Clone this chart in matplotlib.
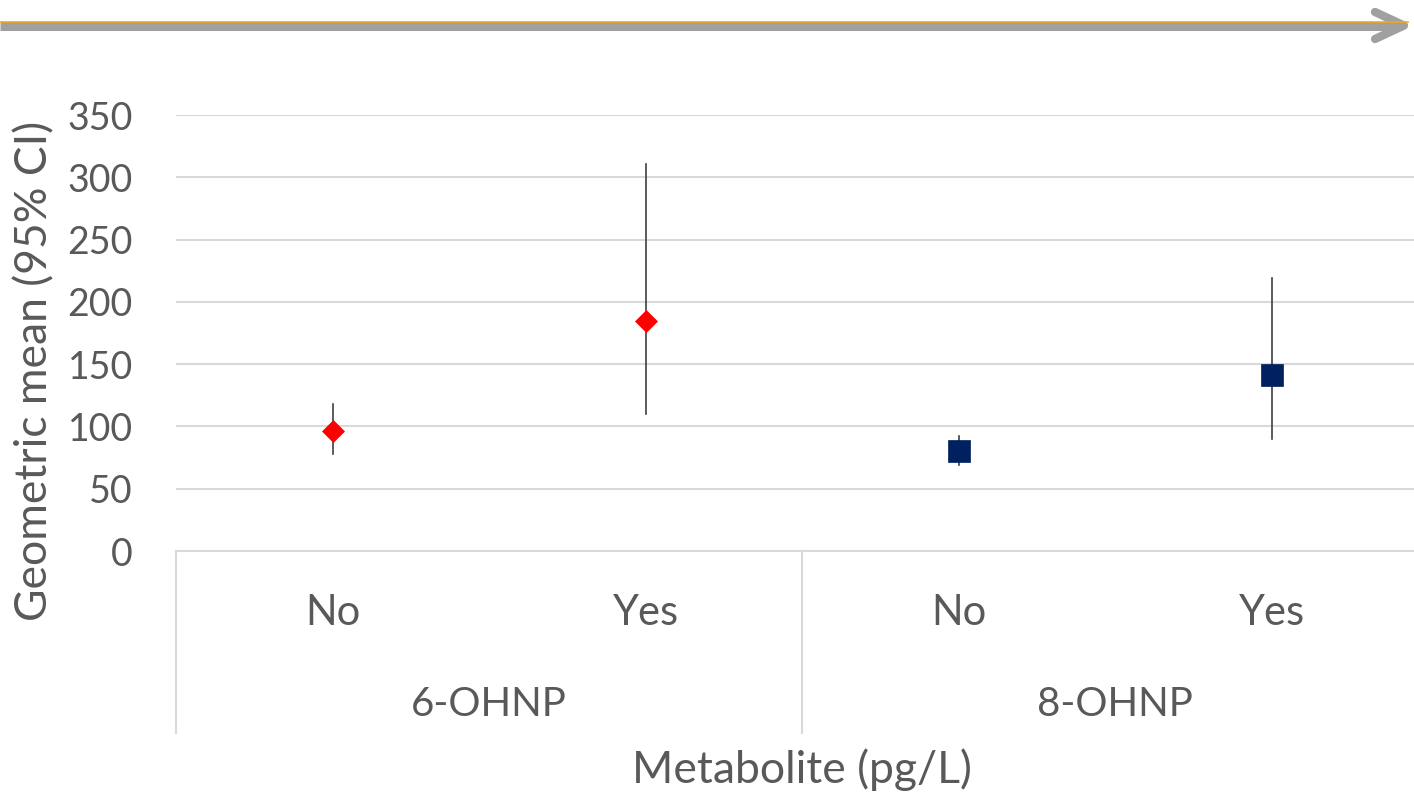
import matplotlib
matplotlib.use("Agg")
import matplotlib.pyplot as plt
from matplotlib.lines import Line2D
import matplotlib.transforms as mtransforms

plt.rcParams['font.family'] = ['Lato', 'DejaVu Sans']

GROUPS = ['6-OHNP', '8-OHNP']
CATS = ['No', 'Yes', 'No', 'Yes']
MEANS = [96, 185, 80, 141]
LOWER = [78, 110, 69, 90]
UPPER = [118, 311, 92, 219]
MARKERS = ['D', 'D', 's', 's']
COLORS = ['#FF0000', '#FF0000', '#002060', '#002060']
SIZES = [11.5, 11.5, 16, 16]

TXT = '#595959'
GRID = '#D9D9D9'

W, H = 1414, 794


def main():
    fig = plt.figure(figsize=(W / 100, H / 100), dpi=100)
    # plot area runs past the right edge, as in the original slide
    ax = fig.add_axes([176 / W, (H - 551) / H, (1428 - 176) / W, 436 / H])

    x = list(range(len(CATS)))
    for i in x:
        ax.plot([i, i], [LOWER[i], UPPER[i]], color='#404040', lw=1.2,
                zorder=3, clip_on=False)
        ax.plot(i, MEANS[i], marker=MARKERS[i], ms=SIZES[i], color=COLORS[i],
                mec=COLORS[i], mew=0.5, zorder=4, clip_on=False, ls='none')

    ax.set_xlim(-0.5, len(CATS) - 0.5)
    ax.set_ylim(0, 350)
    ax.set_yticks(range(0, 351, 50))
    ax.yaxis.grid(True, color=GRID, lw=1.5)
    ax.set_axisbelow(True)
    for s in ['top', 'right', 'left']:
        ax.spines[s].set_visible(False)
    ax.spines['bottom'].set_color(GRID)
    ax.spines['bottom'].set_linewidth(1.5)
    ax.tick_params(axis='y', length=0, pad=31, labelsize=27, labelcolor=TXT)
    ax.set_xticks(x)
    ax.set_xticklabels([])
    ax.tick_params(axis='x', length=0)

    trans = mtransforms.blended_transform_factory(ax.transData, ax.transAxes)
    for i in x:
        ax.text(i, -(613 - 551) / 436, CATS[i], transform=trans,
                ha='center', va='center', fontsize=30, color=TXT)
    bottom = -(733 - 551) / 436
    for b in [-0.5, 1.5, 3.5]:
        ax.add_line(Line2D([b, b], [0, bottom], transform=trans,
                           color=GRID, lw=1.5, clip_on=False))
    for g, name in enumerate(GROUPS):
        ax.text(2 * g + 0.5, -(705 - 551) / 436, name, transform=trans,
                ha='center', va='center', fontsize=29, color=TXT)

    fig.text(802 / W, 1 - 770 / H, 'Metabolite (pg/L)', ha='center',
             va='center', fontsize=32, color=TXT)
    fig.text(35 / W, 1 - 371 / H, 'Geometric mean (95% CI)', ha='center',
             va='center', rotation=90, fontsize=32, color=TXT)

    # slide decoration: arrow line at the top
    def fx(px):
        return px / W

    def fy(py):
        return 1 - py / H

    fig.add_artist(Line2D([0, fx(1402)], [fy(25.5), fy(25.5)], color='#A0A0A0',
                          lw=6.5, solid_capstyle='butt'))
    fig.add_artist(Line2D([fx(1375), fx(1404), fx(1375)],
                          [fy(12), fy(25.5), fy(39)], color='#A0A0A0', lw=6,
                          solid_capstyle='round', solid_joinstyle='round'))
    fig.add_artist(Line2D([0, fx(1408)], [fy(21.5), fy(21.5)], color='#F5A623',
                          lw=1.2))

    fig.savefig('out.png', dpi=100)


if __name__ == "__main__":
    main()
